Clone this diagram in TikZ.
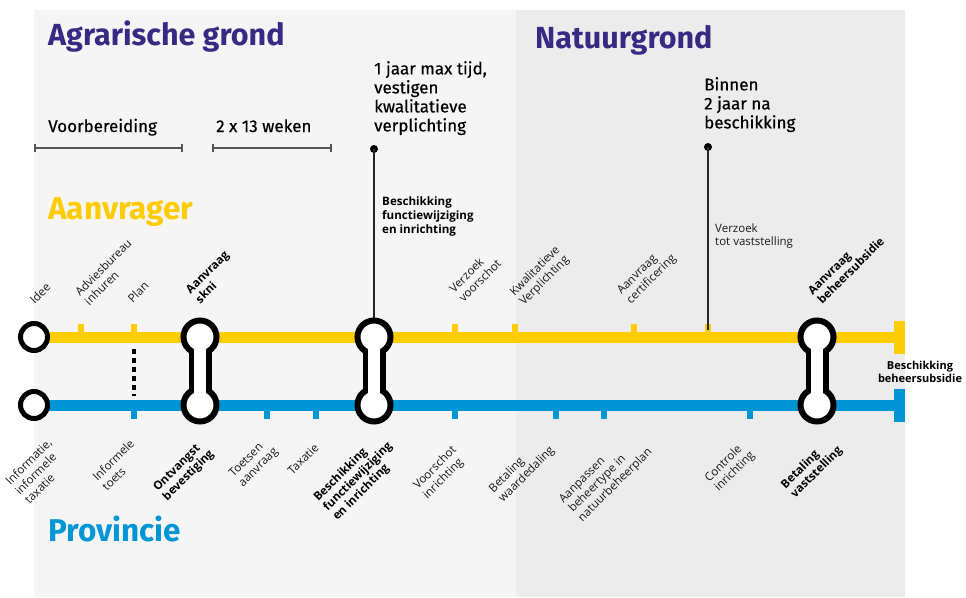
\documentclass[tikz,border=0pt]{standalone}
\usepackage{fontspec}
\usetikzlibrary{arrows.meta}
\setmainfont{Open Sans}
\newfontfamily\headfont{Fira Sans}
\newfontfamily\medfont{Fira Sans}[FakeBold=0.4]
\definecolor{rijkpaars}{RGB}{57,41,131}
\definecolor{geel}{RGB}{255,204,0}
\definecolor{blauw}{RGB}{0,150,214}
\definecolor{bgleft}{RGB}{245,245,245}
\definecolor{bgright}{RGB}{236,236,236}
\definecolor{spangray}{RGB}{85,85,85}
\begin{document}
\begin{tikzpicture}[x=1pt,y=-1pt,
  headtxt/.style={font=\headfont\bfseries\fontsize{30.5}{34}\selectfont, anchor=base west, inner sep=0pt},
  roletxt/.style={font=\headfont\bfseries\fontsize{31.5}{35}\selectfont, anchor=base west, inner sep=0pt},
  notetxt/.style={font=\medfont\fontsize{17}{19}\selectfont, align=left, anchor=north west, inner sep=0pt},
  lbl/.style={font=\fontsize{11.6}{13.5}\selectfont, rotate=45, align=left, inner sep=0pt, text=black!90},
  lblb/.style={lbl, font=\bfseries\fontsize{11.6}{13.5}\selectfont, text=black},
  smalltxt/.style={font=\fontsize{11.5}{13}\selectfont, align=left, anchor=north west, inner sep=0pt, text=black!90},
  smallbold/.style={font=\bfseries\fontsize{11.6}{14}\selectfont, align=left, anchor=north west, inner sep=0pt},
  yline/.style={draw=geel, line width=11pt},
  bline/.style={draw=blauw, line width=11pt},
  station/.style={circle, draw=black, line width=5pt, fill=white, minimum size=27pt, inner sep=0pt},
  bigstation/.style={circle, draw=black, line width=6pt, fill=white, minimum size=33pt, inner sep=0pt},
  spanbar/.style={draw=spangray, line width=1.6pt, {Bar[width=8pt]}-{Bar[width=8pt]}},
  leader/.style={draw=black!85, line width=1.2pt},
  dotnode/.style={circle, fill=black, minimum size=8pt, inner sep=0pt},
]
\useasboundingbox (0,0) rectangle (966,597);
% background panels
\fill[bgleft] (34,10) rectangle (516,597);
\fill[bgright] (516,10) rectangle (905,597);

% titles
\node[headtxt, text=rijkpaars] (tAgr) at (48,45) {Agrarische grond};
\node[headtxt, text=rijkpaars] (tNat) at (535,48) {Natuurgrond};
\node[roletxt, text=geel] (tAanv) at (48,219) {Aanvrager};
\node[roletxt, text=blauw] (tProv) at (48,541) {Provincie};

% phases
\node[notetxt, anchor=base west] (tVoor) at (48,132) {Voorbereiding};
\node[notetxt, anchor=base west] (tWeken) at (216,132) {2 x 13 weken};
\coordinate (v1a) at (34,148); \coordinate (v1b) at (183,148);
\coordinate (v2a) at (212,148); \coordinate (v2b) at (332,148);
\draw[spanbar] (v1a) -- (v1b);
\draw[spanbar] (v2a) -- (v2b);

\node[notetxt] (tJaar) at (374,61) {1 jaar max tijd,\\vestigen\\kwalitatieve\\verplichting};
\node[notetxt] (tBinnen) at (704,77) {Binnen\\2 jaar na\\beschikking};
\node[smallbold] (tBeschF) at (382,196) {Beschikking\\functiewijziging\\en inrichting};
\node[smalltxt] (tVerzoekV) at (715,224) {Verzoek\\tot vaststelling};

% lines
\coordinate (ystart) at (34,337); \coordinate (yend) at (894,337);
\coordinate (bstart) at (34,405); \coordinate (bend) at (894,405);
\draw[yline] (ystart) -- (yend);
\draw[bline] (bstart) -- (bend);
\fill[geel] (894,321) rectangle (905,354);
\fill[blauw] (894,389) rectangle (905,422);

% ticks on yellow line
\foreach \xx in {81,134,455,515,634,708}{\fill[geel] (\xx-3,324) rectangle (\xx+3,333);}
% ticks on blue line
\foreach \xx in {134,267,316,455,556,604,750}{\fill[blauw] (\xx-3,410) rectangle (\xx+3,419);}

% dotted link plan - informele toets
\coordinate (planlink) at (134,349); \coordinate (toetslink) at (134,396);
\draw[black, line width=3.5pt, dash pattern=on 5pt off 4pt] (planlink) -- (toetslink);

% leaders
\node[dotnode] (dotA) at (374,149) {};
\node[dotnode] (dotB) at (708,147) {};
\coordinate (verzoektick) at (708,330);
\draw[leader] (dotA.center) -- (374,330);
\draw[leader] (dotB.center) -- (verzoektick);

% start stations
\node[station] (sIdee) at (ystart) {};
\node[station] (sInfo) at (bstart) {};

% dumbbell stations
\foreach \nm/\xx in {skni/200, fw/374, bh/817}{
  \fill[black] (\xx-11.5,337) rectangle (\xx+11.5,405);
  \node[bigstation] (\nm top) at (\xx,337) {};
  \node[bigstation] (\nm bot) at (\xx,405) {};
  \fill[white] (\xx-5.8,337) rectangle (\xx+5.8,405);
}

% labels above yellow line
\node[lbl] (lIdee) at (40,293) {Idee};
\node[lbl] (lAdvies) at (108,272) {Adviesbureau\\inhuren};
\node[lbl] (lPlan) at (138,292) {Plan};
\node[lblb] (lSkni) at (212,277) {Aanvraag\\skni};
\node[lbl] (lVzVoor) at (475,276) {Verzoek\\voorschot};
\node[lbl] (lKwal) at (540,276) {Kwalitatieve\\Verplichting};
\node[lbl] (lCert) at (647,275) {Aanvraag\\certificering};
\node[lblb] (lBeheer) at (846,266) {Aanvraag\\beheersubsidie};

% labels below blue line
\node[lbl] (lInfo) at (38,471) {Informatie,\\informele\\taxatie};
\node[lbl] (lToets) at (118,465) {Informele\\toets};
\node[lblb] (lOntv) at (184,471) {Ontvangst\\bevestiging};
\node[lbl] (lToetsen) at (254,463) {Toetsen\\aanvraag};
\node[lbl] (lTax) at (303,459) {Taxatie};
\node[lblb] (lBeschF) at (358,477) {Beschikking\\functiewijziging\\en inrichting};
\node[lbl] (lVoorschot) at (440,473) {Voorschot\\inrichting};
\node[lbl] (lBetW) at (522,470) {Betaling\\waardedaling};
\node[lbl] (lAanp) at (606,476) {Aanpassen\\beheertype in\\natuurbeheerplan};
\node[lbl] (lContr) at (730,467) {Controle\\inrichting};
\node[lblb] (lBetV) at (812,468) {Betaling\\vaststelling};

% end label
\node[font=\bfseries\fontsize{11}{13}\selectfont, align=center, inner sep=0pt] (lBeschB) at (920,372) {Beschikking\\ beheersubsidie};
\end{tikzpicture}
\end{document}
